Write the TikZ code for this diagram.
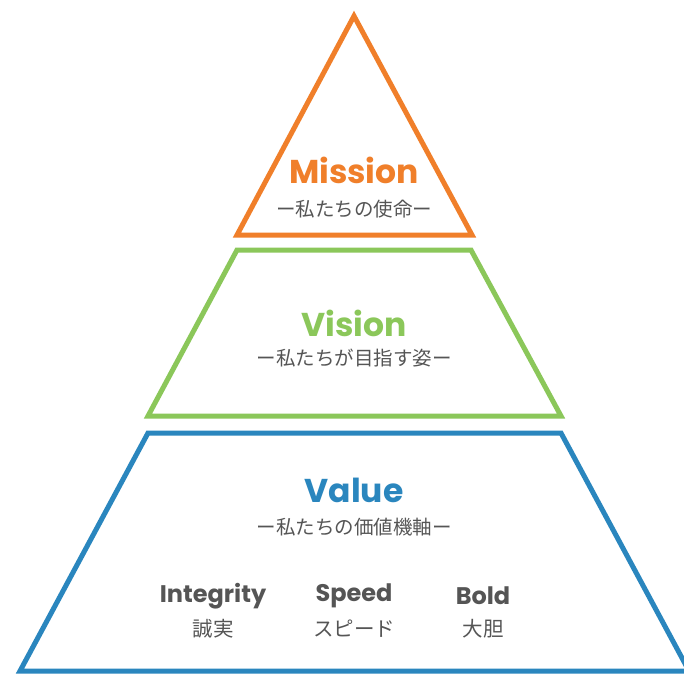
\documentclass[tikz,border=0pt]{standalone}
\usepackage{fontspec}
\setmainfont{Poppins}
\newfontfamily\jp{Noto Sans CJK JP}
\definecolor{cMission}{HTML}{F07F2A}
\definecolor{cVision}{HTML}{8BC75A}
\definecolor{cValue}{HTML}{2A86BE}
\definecolor{cText}{HTML}{555555}
\begin{document}
\begin{tikzpicture}[x=1pt,y=-1pt,
  tier/.style={line width=5pt, line join=miter, fill=white},
  title/.style={font=\fontsize{33}{36}\selectfont\bfseries, inner sep=0pt, anchor=center},
  sub/.style={font=\jp\fontsize{19.5}{22}\selectfont, text=cText, inner sep=0pt, anchor=center},
  item/.style={font=\fontsize{24}{28}\selectfont\bfseries, text=cText, inner sep=0pt, anchor=center},
  itemjp/.style={font=\jp\fontsize{20.5}{22}\selectfont, text=cText, inner sep=0pt, anchor=center}]
\useasboundingbox[fill=white] (0,0) rectangle (684,673);
\draw[tier, draw=cMission] (354,16) -- (472,235) -- (237,235) -- cycle;
\draw[tier, draw=cVision] (237,250) -- (471,250) -- (561,416) -- (148,416) -- cycle;
\begin{scope}
\clip (0,0) rectangle (684,673);
\draw[tier, draw=cValue] (148,433) -- (561,433) -- (689,671) -- (20,671) -- cycle;
\end{scope}
\node[title, text=cMission] (mt) at (354,170) {Mission};
\node[sub] (ms) at (354,209) {ー私たちの使命ー};
\node[title, text=cVision] (vt) at (354,323) {Vision};
\node[sub] (vs) at (354,358) {ー私たちが目指す姿ー};
\node[title, text=cValue] (at) at (354,490) {Value};
\node[sub] (as) at (354,527) {ー私たちの価値機軸ー};
\node[item] (i1) at (213,596) {Integrity};
\node[itemjp] (j1) at (213,629) {誠実};
\node[item] (i2) at (354,596) {Speed};
\node[itemjp] (j2) at (354,629) {スピード};
\node[item] (i3) at (483,596) {Bold};
\node[itemjp] (j3) at (483,629) {大胆};
\end{tikzpicture}
\end{document}
